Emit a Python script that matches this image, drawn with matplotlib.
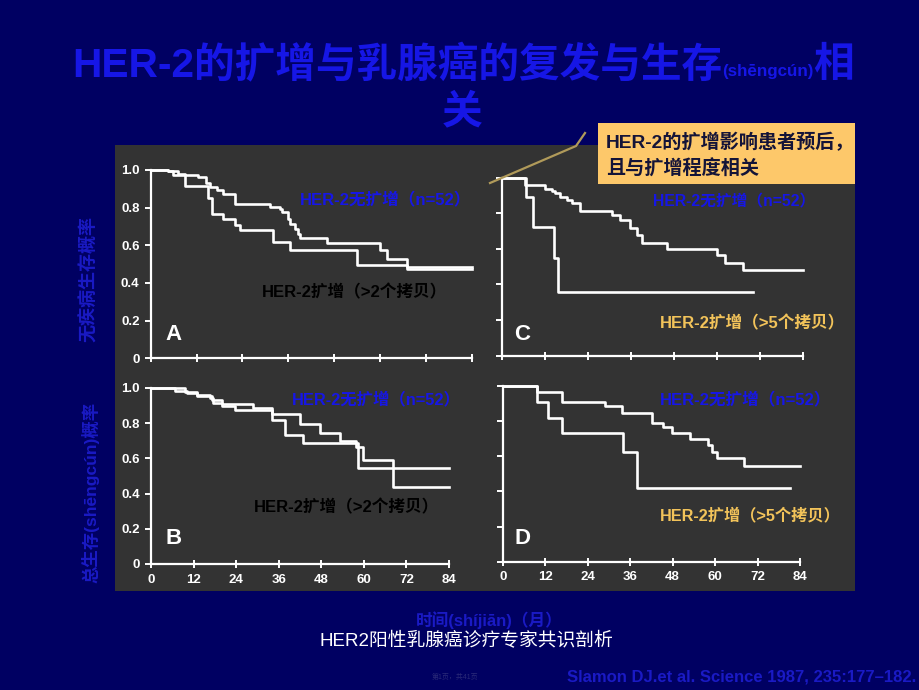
import matplotlib
matplotlib.use('Agg')
import matplotlib.pyplot as plt
from matplotlib.patches import Rectangle
from matplotlib.lines import Line2D

W, H = 920, 690
FAM = ['Liberation Sans', 'Noto Sans CJK SC', 'DejaVu Sans']
plt.rcParams['font.family'] = FAM

# ---------------- data ----------------
month_ticks = [0, 12, 24, 36, 48, 60, 72, 84]
prob_ticks = [0, 0.2, 0.4, 0.6, 0.8, 1.0]
prob_tick_labels = ['0', '0.2', '0.4', '0.6', '0.8', '1.0']

# Panel A: disease-free survival, no amplification vs >2 copies
a_neg_t = [0, 4.6, 7.2, 9.0, 12.5, 14.6, 15.5, 17.3, 19.0, 22.1, 31.2, 33.8, 34.3, 36.0, 36.5, 37.8, 38.6, 39.1, 46.1, 60.0, 61.8, 67.0, 84]
a_neg_v = [1.0, 0.993, 0.981, 0.972, 0.963, 0.933, 0.91, 0.892, 0.874, 0.821, 0.803, 0.795, 0.777, 0.741, 0.714, 0.688, 0.661, 0.639, 0.612, 0.573, 0.529, 0.485, 0.485]
a_pos_t = [0, 4.6, 5.9, 9.0, 15.1, 16.0, 19.0, 22.1, 23.4, 32.1, 36.5, 53.9, 67.0, 84]
a_pos_v = [1.0, 0.993, 0.976, 0.915, 0.85, 0.768, 0.741, 0.706, 0.679, 0.617, 0.573, 0.494, 0.476, 0.476]

# Panel B: overall survival, no amplification vs >2 copies
b_neg_t = [0, 9.6, 12.9, 16.6, 17.6, 19.9, 28.8, 34.0, 42.0, 47.6, 53.3, 57.7, 59.8, 68.3, 84]
b_neg_v = [1.0, 0.975, 0.960, 0.941, 0.913, 0.907, 0.884, 0.850, 0.794, 0.742, 0.699, 0.667, 0.591, 0.439, 0.439]
b_pos_t = [0, 6.8, 10.05, 13.0, 17.1, 19.9, 23.7, 34.0, 37.8, 42.9, 58.4, 84]
b_pos_v = [1.0, 0.985, 0.970, 0.955, 0.930, 0.900, 0.875, 0.818, 0.733, 0.686, 0.544, 0.544]

# Panel C: disease-free survival, no amplification vs >5 copies
c_neg_t = [0, 6.5, 12.1, 13.9, 14.9, 16.2, 18.1, 19.5, 21.8, 30.6, 33.0, 35.7, 37.6, 39.0, 46.0, 59.9, 62.2, 67.3, 84]
c_neg_v = [1.0, 0.959, 0.935, 0.925, 0.912, 0.894, 0.875, 0.856, 0.813, 0.791, 0.763, 0.716, 0.678, 0.631, 0.600, 0.566, 0.519, 0.481, 0.481]
c_pos_t = [0, 6.8, 8.6, 14.6, 15.8, 70.1]
c_pos_v = [1.0, 0.894, 0.721, 0.547, 0.360, 0.360]

# Panel D: overall survival, no amplification vs >5 copies
d_neg_t = [0, 9.6, 16.7, 28.9, 33.6, 42.1, 45.4, 47.7, 52.9, 58.1, 59.0, 60.5, 68.2, 84]
d_neg_v = [1.0, 0.966, 0.909, 0.884, 0.843, 0.790, 0.763, 0.729, 0.695, 0.663, 0.625, 0.587, 0.544, 0.544]
d_pos_t = [0, 9.6, 12.9, 16.7, 34.1, 37.9, 81.2]
d_pos_v = [1.0, 0.909, 0.815, 0.729, 0.625, 0.417, 0.417]

label_neg = 'HER-2无扩增（n=52）'
label_pos2 = 'HER-2扩增（>2个拷贝）'
label_pos5 = 'HER-2扩增（>5个拷贝）'

# ---------------- style ----------------
NAVY = '#000062'
PANEL = '#333333'
BLUE = '#1616E6'
BLUE_DIM = '#1A1AC4'
ORANGE = '#F2C35A'
BOX = '#FDC86A'


def fx(x):
    return x / W


def fy(y):
    return 1 - y / H


fig = plt.figure(figsize=(W / 100, H / 100), dpi=100, facecolor=NAVY)

# gray panel
fig.add_artist(Rectangle((fx(115), fy(591)), fx(855) - fx(115), fy(145) - fy(591),
                         transform=fig.transFigure, facecolor=PANEL, edgecolor='none', zorder=0))

# axes positions (left px, right px, top px for 1.0, bottom px for 0)
panels = [
    ('A', (150.7, 471.7, 170.0, 358.3), a_neg_t, a_neg_v, a_pos_t, a_pos_v, True, False),
    ('B', (151.0, 449.0, 388.0, 564.0), b_neg_t, b_neg_v, b_pos_t, b_pos_v, True, True),
    ('C', (501.7, 803.3, 177.7, 355.7), c_neg_t, c_neg_v, c_pos_t, c_pos_v, False, False),
    ('D', (502.7, 800.0, 385.7, 561.7), d_neg_t, d_neg_v, d_pos_t, d_pos_v, False, True),
]

for name, (x0, x1, y1, y0), t1, v1, t2, v2, ylab, xlab in panels:
    ax = fig.add_axes([fx(x0), fy(y0), fx(x1) - fx(x0), fy(y1) - fy(y0)])
    ax.set_xlim(0, 84)
    ax.set_ylim(0, 1.0)
    ax.patch.set_visible(False)
    for s in ['top', 'right']:
        ax.spines[s].set_visible(False)
    for s in ['left', 'bottom']:
        ax.spines[s].set_color('white')
        ax.spines[s].set_linewidth(1.6)
    ax.set_xticks(month_ticks)
    ax.set_yticks(prob_ticks)
    ax.tick_params(axis='both', colors='white', width=1.4)
    ax.tick_params(axis='y', direction='out', length=4, pad=4)
    ax.tick_params(axis='x', direction='inout', length=6, pad=4)
    if ylab:
        ax.set_yticklabels(prob_tick_labels, fontsize=9.5, fontweight='bold', color='white')
    else:
        ax.set_yticklabels([])
    if xlab:
        ax.set_xticklabels([str(m) for m in month_ticks], fontsize=9.5, fontweight='bold', color='white')
    else:
        ax.set_xticklabels([])
    ax.step(t1, v1, where='post', color='white', lw=1.9, clip_on=False)
    ax.step(t2, v2, where='post', color='white', lw=1.9, clip_on=False)

# panel letters
for letter, (x, y) in zip('ABCD', [(174, 335), (174, 538), (522, 334), (523, 538)]):
    fig.text(fx(x), fy(y), letter, fontsize=16, fontweight='bold', color='white',
             ha='center', va='center')

# curve annotations
annots = [
    (300, 200, label_neg, BLUE, 12),
    (262, 292, label_pos2, 'black', 12),
    (292, 399, label_neg, BLUE, 11.8),
    (254, 507, label_pos2, 'black', 12),
    (653, 202, label_neg, BLUE, 11.3),
    (660, 323, label_pos5, ORANGE, 12),
    (660, 400, label_neg, BLUE, 12),
    (660, 515, label_pos5, ORANGE, 11.7),
]
for x, y, s, c, fs in annots:
    fig.text(fx(x), fy(y), s, fontsize=fs, fontweight='bold', color=c, ha='left', va='center')

# axis labels
fig.text(fx(89), fy(279), '无疾病生存概率', rotation=90, fontsize=13, fontweight='bold',
         color=BLUE_DIM, ha='center', va='center')
fig.text(fx(90), fy(492), '总生存(shēngcún)概率', rotation=90, fontsize=12.5, fontweight='bold',
         color=BLUE_DIM, ha='center', va='center')
fig.text(fx(489), fy(620), '时间(shíjiān)（月）', fontsize=12, fontweight='bold',
         color=BLUE_DIM, ha='center', va='center')

# title (composed from pieces on a shared baseline)
renderer = fig.canvas.get_renderer()
pieces = [('HER-2的扩增与乳腺癌的复发与生存', 1.0), ('(shēngcún)', 0.42), ('相', 1.0)]
base_fs = 28
total = 0
for s, k in pieces:
    tt = fig.text(0, 0, s, fontsize=base_fs * k, fontweight='bold')
    total += tt.get_window_extent(renderer=renderer).width
    tt.remove()
scale = (855 - 72) / total
xcur = 72
for s, k in pieces:
    tt = fig.text(fx(xcur), fy(76), s, fontsize=base_fs * k * scale, fontweight='bold',
                  color=BLUE, ha='left', va='baseline')
    xcur += tt.get_window_extent(renderer=renderer).width
fig.text(fx(462), fy(112), '关', fontsize=base_fs * scale, fontweight='bold', color=BLUE,
         ha='center', va='center')

# callout
fig.add_artist(Line2D([fx(490), fx(576), fx(585)], [fy(183), fy(146), fy(133)],
                      transform=fig.transFigure, color='#B09A5A', lw=1.6))
fig.add_artist(Rectangle((fx(598), fy(184)), fx(855) - fx(598), fy(123) - fy(184),
                         transform=fig.transFigure, facecolor=BOX, edgecolor='none', zorder=1))
fig.text(fx(606), fy(143), 'HER-2的扩增影响患者预后，', fontsize=13.8, fontweight='bold',
         color='#141438', ha='left', va='center', zorder=3)
fig.text(fx(606), fy(169), '且与扩增程度相关', fontsize=13.8, fontweight='bold',
         color='#141438', ha='left', va='center', zorder=3)

# footer
fig.text(fx(466), fy(641), 'HER2阳性乳腺癌诊疗专家共识剖析', fontsize=13.5, color='white',
         ha='center', va='center')
fig.text(fx(916), fy(677), 'Slamon DJ.et al. Science 1987, 235:177–182.', fontsize=12,
         fontweight='bold', color=BLUE_DIM, ha='right', va='center')
fig.text(fx(455), fy(677), '第1页，共41页', fontsize=5, color='#2a2a78', ha='center', va='center')

fig.savefig('out.png', dpi=100, facecolor=NAVY)
